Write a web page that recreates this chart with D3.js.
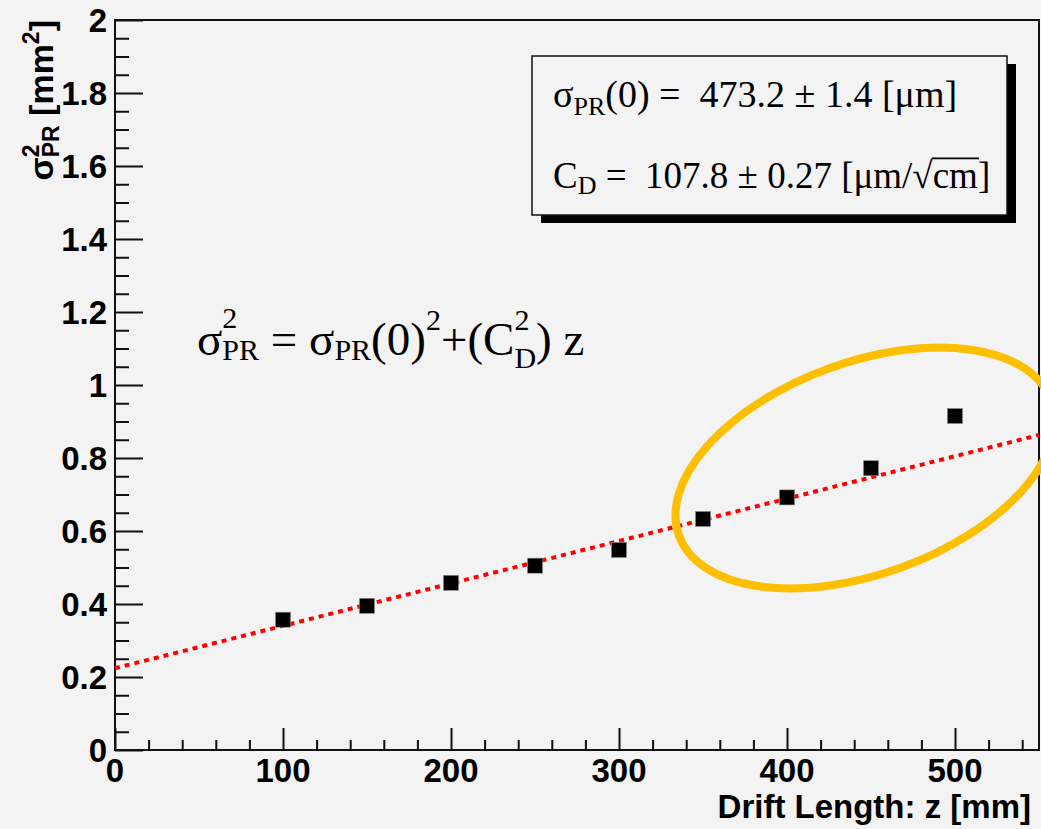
<!DOCTYPE html>
<html>
<head>
<meta charset="utf-8">
<script src="https://cdn.jsdelivr.net/npm/d3@7"></script>
<style>
  html, body { margin: 0; padding: 0; background: #f3f3f3; }
  svg { display: block; }
  text { white-space: pre; }
</style>
</head>
<body>
<div id="chart"></div>
<script>
// measured points: drift length z [mm] vs sigma_PR^2 [mm^2]
const driftZ = [100, 150, 200, 250, 300, 350, 400, 450, 500];
const sigma2 = [0.357, 0.395, 0.458, 0.505, 0.548, 0.633, 0.692, 0.772, 0.915];

// fitted straight line, read at both ends of the frame
const fitZ = [0, 550];
const fitY = [0.224, 0.863];

const xTicks = [0, 100, 200, 300, 400, 500];
const yTicks = [0, 0.2, 0.4, 0.6, 0.8, 1, 1.2, 1.4, 1.6, 1.8, 2];
const yTickLabels = ["0", "0.2", "0.4", "0.6", "0.8", "1", "1.2", "1.4", "1.6", "1.8", "2"];

const width = 1041, height = 829;
const frame = {left: 115, right: 1039, top: 20, bottom: 750};
const bg = "#f3f3f3";
const axisFont = "'Liberation Sans', Arial, Helvetica, sans-serif";
const serif = "'Liberation Serif', 'Times New Roman', serif";

const svg = d3.select("#chart").append("svg")
    .attr("width", width)
    .attr("height", height);

svg.append("rect")
    .attr("width", width)
    .attr("height", height)
    .attr("fill", bg);

const x = d3.scaleLinear().domain([0, 550]).range([frame.left, frame.right]);
const y = d3.scaleLinear().domain([0, 2]).range([frame.bottom, frame.top]);

// lays out a run of text pieces (sub/superscripts), returns total width
function latex(g, x0, y0, parts, attrs) {
    let cx = x0, lastStart = x0;
    parts.forEach(function(p) {
        const startX = p.stack ? lastStart : cx;
        const t = g.append("text")
            .attr("x", startX)
            .attr("y", y0 + (p.dy || 0))
            .attr("font-size", p.size)
            .text(p.t);
        for (const k in attrs) t.attr(k, attrs[k]);
        const w = t.node().getComputedTextLength();
        if (p.over) {
            // bar of the square root over the piece
            const yb = y0 + (p.dy || 0) - p.size * 0.80;
            g.append("line")
                .attr("x1", startX - 1).attr("x2", startX + w + 1)
                .attr("y1", yb).attr("y2", yb)
                .attr("stroke", "#000")
                .attr("stroke-width", 1.6);
        }
        cx = p.stack ? Math.max(cx, startX + w) : startX + w;
        if (!p.stack) lastStart = startX;
    });
    return cx - x0;
}

// frame
svg.append("rect")
    .attr("x", frame.left)
    .attr("y", frame.top)
    .attr("width", frame.right - frame.left)
    .attr("height", frame.bottom - frame.top)
    .attr("fill", bg)
    .attr("stroke", "#111")
    .attr("stroke-width", 2);

// x ticks (pointing into the frame)
const xMinor = d3.range(0, 551, 20).filter(v => v % 100 !== 0);
svg.append("g")
    .attr("transform", "translate(0," + frame.bottom + ")")
    .call(d3.axisTop(x).tickValues(xTicks).tickSize(22).tickFormat(""))
    .call(g => g.select(".domain").remove())
    .call(g => g.selectAll("line").attr("stroke", "#111").attr("stroke-width", 2));
svg.append("g")
    .attr("transform", "translate(0," + frame.bottom + ")")
    .call(d3.axisTop(x).tickValues(xMinor).tickSize(10).tickFormat(""))
    .call(g => g.select(".domain").remove())
    .call(g => g.selectAll("line").attr("stroke", "#111").attr("stroke-width", 2));

// y ticks
const yMinor = d3.range(0, 41).map(i => i * 0.05).filter((v, i) => i % 4 !== 0);
svg.append("g")
    .attr("transform", "translate(" + frame.left + ",0)")
    .call(d3.axisRight(y).tickValues(yTicks).tickSize(28).tickFormat(""))
    .call(g => g.select(".domain").remove())
    .call(g => g.selectAll("line").attr("stroke", "#111").attr("stroke-width", 2));
svg.append("g")
    .attr("transform", "translate(" + frame.left + ",0)")
    .call(d3.axisRight(y).tickValues(yMinor).tickSize(14).tickFormat(""))
    .call(g => g.select(".domain").remove())
    .call(g => g.selectAll("line").attr("stroke", "#111").attr("stroke-width", 2));

// tick labels
svg.append("g").selectAll("text")
    .data(xTicks)
    .join("text")
    .attr("x", d => x(d))
    .attr("y", 782)
    .attr("text-anchor", "middle")
    .attr("font-family", axisFont)
    .attr("font-weight", "bold")
    .attr("font-size", 33)
    .text(d => d);

svg.append("g").selectAll("text")
    .data(yTicks)
    .join("text")
    .attr("x", 107)
    .attr("y", d => y(d))
    .attr("dy", "0.36em")
    .attr("text-anchor", "end")
    .attr("font-family", axisFont)
    .attr("font-weight", "bold")
    .attr("font-size", 33)
    .text((d, i) => yTickLabels[i]);

// axis titles
svg.append("text")
    .attr("x", 1031)
    .attr("y", 818)
    .attr("text-anchor", "end")
    .attr("font-family", axisFont)
    .attr("font-weight", "bold")
    .attr("font-size", 33)
    .text("Drift Length: z [mm]");

const yTitle = svg.append("g");
const yTitleW = latex(yTitle, 0, 0, [
    {t: "σ", size: 34},
    {t: "2", size: 23, dy: -14},
    {t: "PR", size: 23, dy: 6, stack: true},
    {t: " [mm", size: 34},
    {t: "2", size: 23, dy: -14},
    {t: "]", size: 34}
], {"font-family": axisFont, "font-weight": "bold"});
yTitle.attr("transform", "translate(53," + (frame.top + yTitleW) + ") rotate(-90)");

// fit line
svg.append("path")
    .datum(fitZ.map((z, i) => [z, fitY[i]]))
    .attr("d", d3.line().x(d => x(d[0])).y(d => y(d[1])))
    .attr("fill", "none")
    .attr("stroke", "#ff0000")
    .attr("stroke-width", 4)
    .attr("stroke-dasharray", "5,5");

// data markers
const m = 15;
svg.append("g").selectAll("rect")
    .data(driftZ)
    .join("rect")
    .attr("x", d => x(d) - m / 2)
    .attr("y", (d, i) => y(sigma2[i]) - m / 2)
    .attr("width", m)
    .attr("height", m)
    .attr("fill", "#000")
    .attr("stroke", "#888")
    .attr("stroke-width", 0.6);

// formula
const formula = svg.append("g");
latex(formula, 197, 355, [
    {t: "σ", size: 47},
    {t: "2", size: 30, dy: -27},
    {t: "PR", size: 30, dy: 5, stack: true},
    {t: " = σ", size: 47},
    {t: "PR", size: 30, dy: 5},
    {t: "(0)", size: 47},
    {t: "2", size: 30, dy: -25},
    {t: "+(C", size: 47},
    {t: "2", size: 30, dy: -25},
    {t: "D", size: 30, dy: 13, stack: true},
    {t: ") z", size: 47}
], {"font-family": serif, "fill": "#000"});

// stats box
const box = {x: 532, y: 56, w: 475, h: 159};
svg.append("rect")
    .attr("x", box.x + 9)
    .attr("y", box.y + 8)
    .attr("width", box.w)
    .attr("height", box.h)
    .attr("fill", "#000");
svg.append("rect")
    .attr("x", box.x)
    .attr("y", box.y)
    .attr("width", box.w)
    .attr("height", box.h)
    .attr("fill", bg)
    .attr("stroke", "#111")
    .attr("stroke-width", 1.5);

const stats = svg.append("g");
latex(stats, 553, 107, [
    {t: "σ", size: 38},
    {t: "PR", size: 26, dy: 8},
    {t: "(0) =  473.2 ± 1.4 [μm]", size: 38}
], {"font-family": serif});
latex(stats, 553, 188, [
    {t: "C", size: 37},
    {t: "D", size: 26, dy: 6},
    {t: " =  107.8 ± 0.27 [μm/√", size: 37},
    {t: "cm", size: 37, over: true},
    {t: "]", size: 37}
], {"font-family": serif});

// highlight ellipse
svg.append("ellipse")
    .attr("cx", 865)
    .attr("cy", 468)
    .attr("rx", 198)
    .attr("ry", 106)
    .attr("transform", "rotate(-20,865,468)")
    .attr("fill", "none")
    .attr("stroke", "#fdbf00")
    .attr("stroke-width", 8);
</script>
</body>
</html>
